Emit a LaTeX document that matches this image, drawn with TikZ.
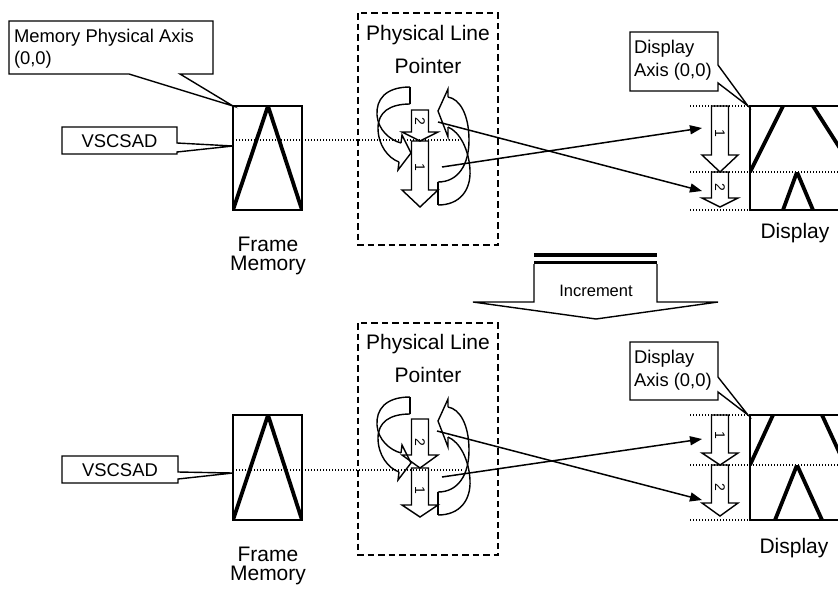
\documentclass[tikz,border=0pt]{standalone}
\usepackage{fontspec}
\setmainfont{Liberation Sans}
\usetikzlibrary{arrows.meta}
\newcommand{\mycurves}{%
  % left curved arrow (flat end top-right, head bottom pointing right)
  \draw[band] (410,87) -- (410,104);
  \draw[band] (410,87) .. controls (385,87) and (376,100) .. (377,115) .. controls (378,130) and (390,140) .. (401,143);
  \draw[band] (410,104) .. controls (390,104) and (378,112) .. (378,128) .. controls (378,145) and (388,158) .. (399,162);
  \draw[band] (401,143) -- (402,135) -- (411,153) -- (398,170) -- (399,162);
  % right curved arrow (flat end bottom-left, head top pointing left)
  \draw[band] (438,182) -- (438,205);
  \draw[band] (438,205) .. controls (460,205) and (471,190) .. (470,170) .. controls (469,150) and (460,132) .. (448,127);
  \draw[band] (438,182) .. controls (458,182) and (469,165) .. (469,140) .. controls (469,115) and (460,99) .. (448,97);
  \draw[band] (448,97) -- (448,89) -- (438,111) -- (448,137) -- (448,127);
}
\begin{document}
\begin{tikzpicture}[x=1pt,y=-1pt,
  every node/.style={inner sep=0pt,outer sep=0pt},
  lbl/.style={font=\fontsize{21}{24}\selectfont,anchor=base},
  cal/.style={font=\fontsize{18.4}{22}\selectfont,anchor=base west},
  num/.style={font=\fontsize{14}{14}\selectfont,rotate=-90},
  outl/.style={line width=1.4pt,line join=miter,miter limit=10},
  legs/.style={line width=3.8pt},
  dots/.style={line width=1.3pt,dash pattern=on 1.3pt off 1.7pt},
  dashbox/.style={line width=1.6pt,dash pattern=on 6.5pt off 4pt},
  conn/.style={line width=1.5pt,-{Triangle[length=12pt,width=9pt]}},
  band/.style={line width=1.4pt,line join=miter},
]
\useasboundingbox (0,0) rectangle (838,590);

% ================= TOP =================
\begin{scope}
  \clip (233,106) rectangle (302,210);
  \draw[legs] (233,210) -- (268,106) -- (302,210);
\end{scope}
\draw[outl] (233,106) rectangle (302,210);
\draw[dots] (233,140) -- (463,140);
\node[lbl] (fmA) at (268,251) {Frame};
\node[lbl] (fmB) at (268,270) {Memory};

\draw[outl,fill=white] (9,21) -- (213,21) -- (213,74) -- (180,74) -- (233,106) -- (129,74) -- (9,74) -- cycle;
\node[cal] (mpa1) at (14,42) {Memory Physical Axis};
\node[cal] (mpa2) at (14,64) {(0,0)};
\draw[outl,fill=white] (62,127) -- (177,127) -- (177,143) -- (233,146) -- (177,152) -- (177,154) -- (62,154) -- cycle;
\node[font=\fontsize{18.4}{22}\selectfont] (vs1) at (119.5,141) {VSCSAD};

\draw[dashbox] (358,13) rectangle (498,245);
\node[lbl] (plA) at (428,40) {Physical Line};
\node[lbl] (plB) at (428,73) {Pointer};
\mycurves
\draw[outl] (411.5,110) -- (428.5,110) -- (428.5,132) -- (438,132) -- (420,141) -- (402,132) -- (411.5,132) -- cycle;
\draw[outl] (411.5,141) -- (428.5,141) -- (428.5,190) -- (438,190) -- (420,207) -- (402,190) -- (411.5,190) -- cycle;
\node[num] (p2a) at (420,121) {2};
\node[num] (p1a) at (420,167) {1};

\begin{scope}
  \clip (750,106) rectangle (838,172);
  \draw[legs] (750,172) -- (783,106);
  \draw[legs] (813,106) -- (850,164);
\end{scope}
\begin{scope}
  \clip (750,172) rectangle (838,210);
  \draw[legs] (783,210) -- (797,172) -- (813,210);
\end{scope}
\draw[outl] (838,106) -- (750,106) -- (750,210) -- (838,210);
\draw[dots] (690,106) -- (838,106);
\draw[dots] (690,172) -- (838,172);
\draw[dots] (690,210) -- (838,210);
\draw[outl] (711.5,106) -- (728.5,106) -- (728.5,155) -- (738,155) -- (720,172) -- (702,155) -- (711.5,155) -- cycle;
\draw[outl] (711.5,172) -- (728.5,172) -- (728.5,198) -- (738,198) -- (720,207) -- (702,198) -- (711.5,198) -- cycle;
\node[num] (d1a) at (720,133) {1};
\node[num] (d2a) at (720,187) {2};
\draw[outl,fill=white] (630,32) -- (718,32) -- (718,65) -- (748,106) -- (718,83) -- (718,91) -- (630,91) -- cycle;
\node[cal] (da1) at (634,53) {Display};
\node[cal] (da2) at (634,76) {Axis (0,0)};
\node[lbl] (dspA) at (795,238) {Display};

\coordinate (s1a) at (442,167);
\coordinate (e1a) at (702,128);
\coordinate (s2a) at (438,122);
\coordinate (e2a) at (702,191);
\draw[conn] (s1a) -- (e1a);
\draw[conn] (s2a) -- (e2a);

% ================= INCREMENT =================
\draw[outl,fill=white] (534,264) -- (534,302) -- (473,302) -- (596,319) -- (718,302) -- (657,302) -- (657,264);
\draw[line width=4.5pt] (534,255) -- (657,255);
\draw[line width=3pt] (534,262.5) -- (657,262.5);
\node[font=\fontsize{16.5}{20}\selectfont,anchor=base] (inc) at (596,296) {Increment};

% ================= BOTTOM =================
\begin{scope}
  \clip (233,415) rectangle (302,520);
  \draw[legs] (233,520) -- (268,415) -- (302,520);
\end{scope}
\draw[outl] (233,415) rectangle (302,520);
\draw[dots] (233,470) -- (463,470);
\node[lbl] (fmC) at (268,561) {Frame};
\node[lbl] (fmD) at (268,580) {Memory};
\draw[outl,fill=white] (62,456) -- (178,456) -- (178,472) -- (233,473) -- (178,479) -- (178,483) -- (62,483) -- cycle;
\node[font=\fontsize{18.4}{22}\selectfont] (vs2) at (120,470) {VSCSAD};

\draw[dashbox] (358,323) rectangle (498,555);
\node[lbl] (plC) at (428,349) {Physical Line};
\node[lbl] (plD) at (428,382) {Pointer};
\begin{scope}[shift={(0,310)}]
  \mycurves
\end{scope}
\draw[outl] (411.5,419) -- (428.5,419) -- (428.5,455) -- (438,455) -- (420,468) -- (402,455) -- (411.5,455) -- cycle;
\draw[outl] (411.5,468) -- (428.5,468) -- (428.5,505) -- (438,505) -- (420,517) -- (402,505) -- (411.5,505) -- cycle;
\node[num] (p2b) at (420,442) {2};
\node[num] (p1b) at (420,490) {1};

\begin{scope}
  \clip (750,415) rectangle (838,465);
  \draw[legs] (750,465) -- (773,415);
  \draw[legs] (822,415) -- (846,467);
\end{scope}
\begin{scope}
  \clip (750,465) rectangle (838,520);
  \draw[legs] (775,520) -- (797,465) -- (822,520);
\end{scope}
\draw[outl] (838,415) -- (750,415) -- (750,520) -- (838,520);
\draw[dots] (690,415) -- (838,415);
\draw[dots] (690,465) -- (838,465);
\draw[dots] (690,520) -- (838,520);
\draw[outl] (711.5,415) -- (728.5,415) -- (728.5,453) -- (738,453) -- (720,465) -- (702,453) -- (711.5,453) -- cycle;
\draw[outl] (711.5,465) -- (728.5,465) -- (728.5,503) -- (738,503) -- (720,516) -- (702,503) -- (711.5,503) -- cycle;
\node[num] (d1b) at (720,435) {1};
\node[num] (d2b) at (720,487) {2};
\draw[outl,fill=white] (630,342) -- (718,342) -- (718,377) -- (748,415) -- (718,392) -- (718,400) -- (630,400) -- cycle;
\node[cal] (da3) at (634,363) {Display};
\node[cal] (da4) at (634,386) {Axis (0,0)};
\node[lbl] (dspB) at (794,553) {Display};

\coordinate (s1b) at (442,477);
\coordinate (e1b) at (702,439);
\coordinate (s2b) at (437,431);
\coordinate (e2b) at (702,500);
\draw[conn] (s1b) -- (e1b);
\draw[conn] (s2b) -- (e2b);
\end{tikzpicture}
\end{document}
